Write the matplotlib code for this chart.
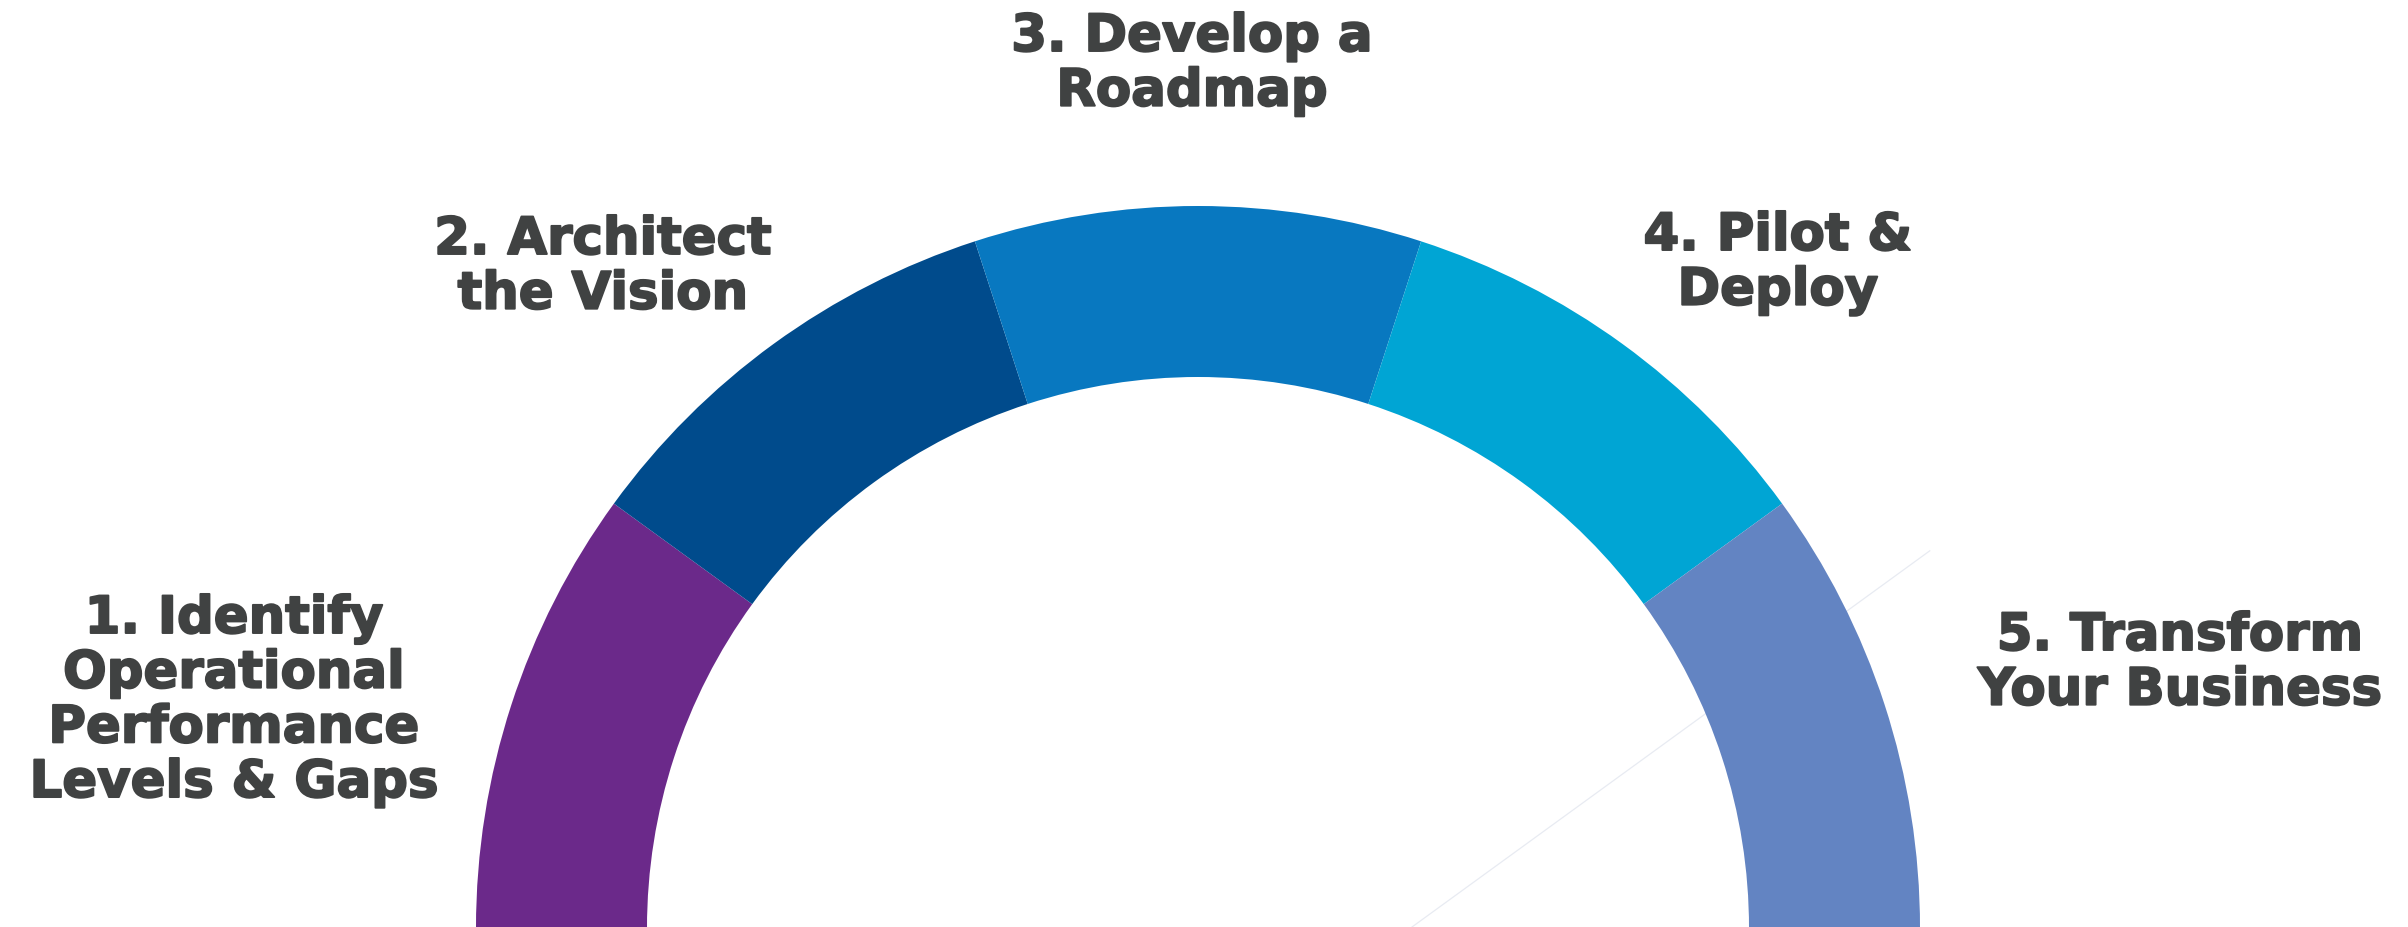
import numpy as np
import matplotlib
matplotlib.use("Agg")
import matplotlib.pyplot as plt
import matplotlib.patheffects as pe

# five steps, equal share of the half ring
steps = [
    "1. Identify\nOperational\nPerformance\nLevels & Gaps",
    "2. Architect\nthe Vision",
    "3. Develop a\nRoadmap",
    "4. Pilot &\nDeploy",
    "5. Transform\nYour Business",
]
shares = [1, 1, 1, 1, 1]
colors = ["#6b298a", "#004b8c", "#0878c0", "#00a5d4", "#6384c2"]

# label anchors in pixels (x = centre of block, y = top of block)
label_x = [234, 603, 1192, 1778, 2180]
label_top = [595, 216, 13, 212, 612]

W, H = 2408, 928
cx, cy = 1198, -1
r_out, ring_w = 722, 171
text_color = "#404242"

fig = plt.figure(figsize=(W / 100, H / 100), dpi=100)
ax = fig.add_axes([0, 0, 1, 1])

# faint guide line behind the ring
ang = np.deg2rad(36)
ax.plot([1412, 1412 + 640 * np.cos(ang)], [0, 640 * np.sin(ang)],
        color="#e8ebf2", lw=0.9, zorder=0)

# half donut: the second half of the pie is left empty
ax.pie(shares + [sum(shares)], colors=colors + ["none"],
       startangle=180, counterclock=False,
       radius=r_out, center=(cx, cy),
       wedgeprops=dict(width=ring_w, linewidth=0, edgecolor="none"))

# a thin stroke makes the bold face look closer to a black weight
heavy = [pe.withStroke(linewidth=1.4, foreground=text_color)]
for txt, x, top in zip(steps, label_x, label_top):
    ax.text(x, H - top, txt, ha="center", va="top", multialignment="center",
            fontsize=37, fontweight="bold", family="DejaVu Sans",
            color=text_color, linespacing=1.12, path_effects=heavy)

ax.set_xlim(0, W)
ax.set_ylim(0, H)
ax.set_aspect("equal")
ax.axis("off")

fig.savefig("out.png", dpi=100, facecolor="white")
